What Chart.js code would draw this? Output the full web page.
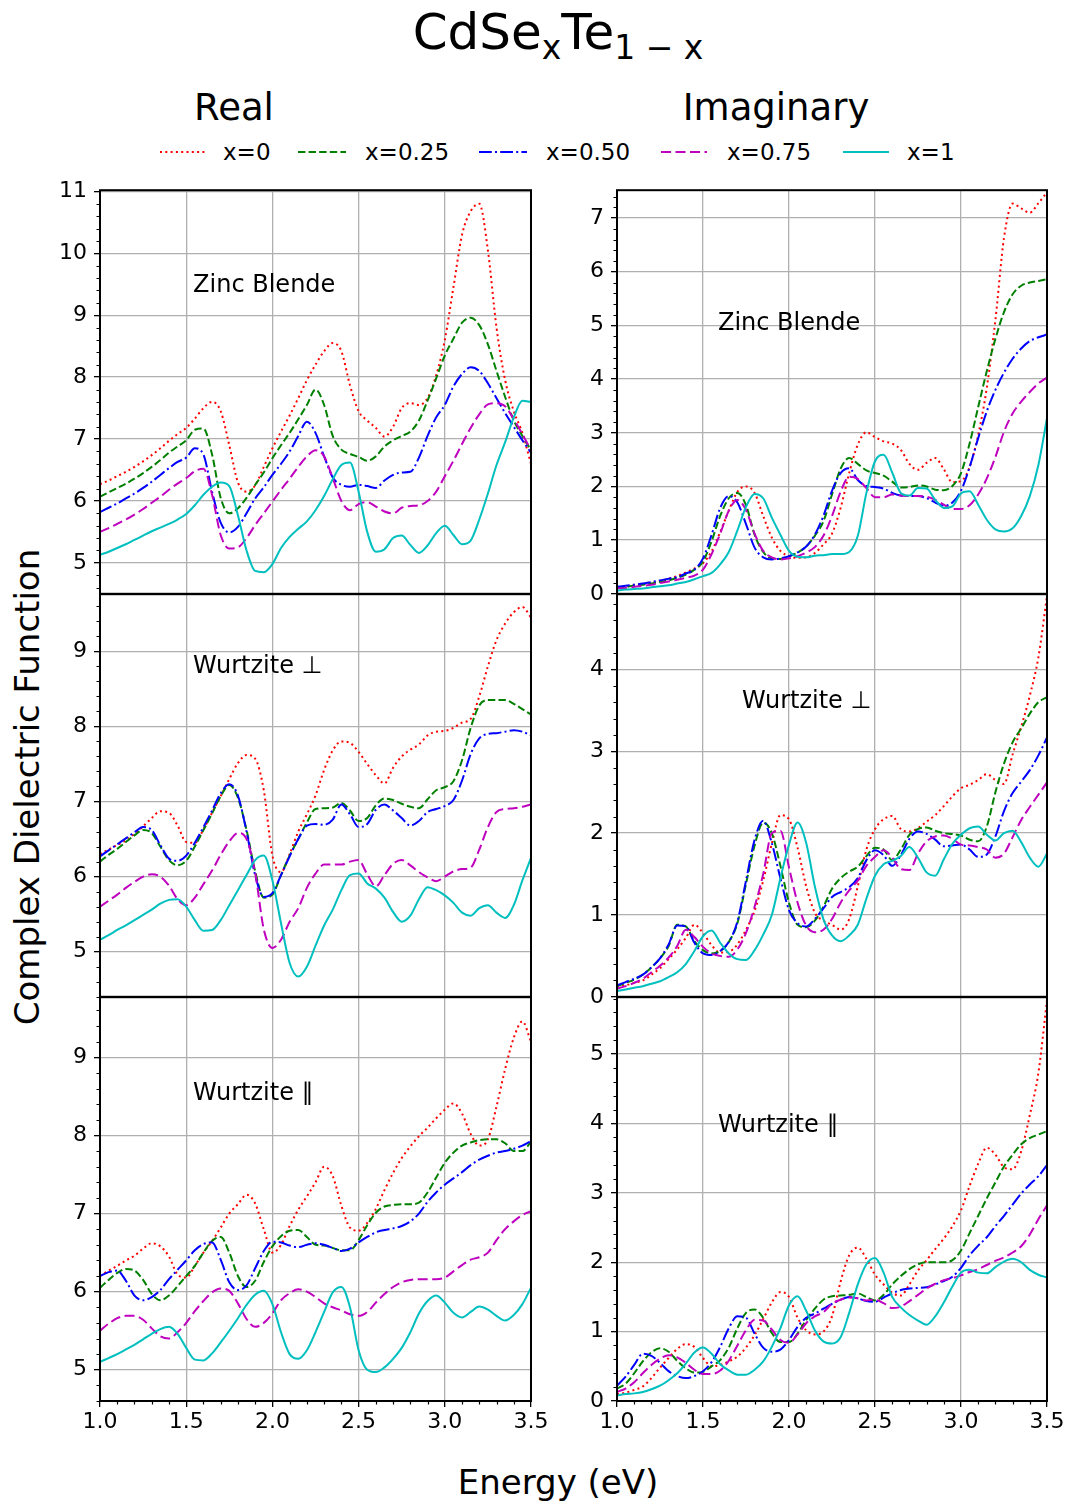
<!DOCTYPE html>
<html><head><meta charset="utf-8">
<script src="https://cdn.jsdelivr.net/npm/chart.js@4.4.0/dist/chart.umd.min.js"></script>
<style>
html,body{margin:0;padding:0;background:#fff;}
#page{position:relative;width:1071px;height:1504px;overflow:hidden;font-family:'DejaVu Sans',sans-serif;color:#000;}
canvas{position:absolute;}
.t{position:absolute;white-space:nowrap;line-height:1;}
.sub{font-size:33px;position:relative;top:10px;}
</style></head><body><div id="page">
<div class="t" style="font-size:50px;left:558px;top:32px;transform:translate(-50%,-50%)">CdSe<span class="sub">x</span>Te<span class="sub">1 − x</span></div>
<div class="t" style="font-size:37px;left:234px;top:107px;transform:translate(-50%,-50%)">Real</div>
<div class="t" style="font-size:37px;left:776px;top:107px;transform:translate(-50%,-50%)">Imaginary</div>
<div id="legend"></div>
<div class="t" style="font-size:34px;left:27px;top:787px;transform:translate(-50%,-50%) rotate(-90deg)">Complex Dielectric Function</div>
<div class="t" style="font-size:34px;left:558px;top:1482px;transform:translate(-50%,-50%)">Energy (eV)</div>
</div>
<script>
// ---------------- DATA ----------------
const ENERGY = [1.00,1.05,1.10,1.15,1.20,1.25,1.30,1.35,1.40,1.45,1.50,1.55,1.60,1.65,1.70,1.75,1.80,1.85,1.90,1.95,2.00,2.05,2.10,2.15,2.20,2.25,2.30,2.35,2.40,2.45,2.50,2.55,2.60,2.65,2.70,2.75,2.80,2.85,2.90,2.95,3.00,3.05,3.10,3.15,3.20,3.25,3.30,3.35,3.40,3.45,3.50];
const SERIES_LABELS = ['x=0','x=0.25','x=0.50','x=0.75','x=1'];
const ENERGY_TICKS = [1.0,1.5,2.0,2.5,3.0,3.5];

// Real part, Zinc Blende
const realZB_x0   = [6.27,6.33,6.40,6.47,6.55,6.64,6.74,6.85,6.97,7.08,7.18,7.33,7.50,7.60,7.45,6.90,6.30,6.15,6.25,6.55,6.85,7.12,7.38,7.66,7.95,8.20,8.42,8.55,8.42,7.87,7.45,7.30,7.18,7.04,7.20,7.50,7.58,7.55,7.66,8.03,8.60,9.45,10.30,10.68,10.80,10.05,8.80,7.95,7.45,7.10,6.60];
const realZB_x25  = [6.07,6.14,6.21,6.28,6.36,6.45,6.55,6.66,6.78,6.88,6.98,7.15,7.17,6.75,6.05,5.80,5.88,6.05,6.26,6.46,6.69,6.90,7.10,7.32,7.55,7.80,7.55,7.05,6.83,6.76,6.71,6.65,6.72,6.88,6.98,7.05,7.12,7.30,7.62,7.98,8.35,8.62,8.88,8.96,8.84,8.53,8.10,7.68,7.30,7.05,6.82];
const realZB_x50  = [5.82,5.89,5.96,6.04,6.12,6.21,6.31,6.42,6.53,6.63,6.70,6.85,6.75,6.15,5.65,5.49,5.58,5.80,6.04,6.22,6.42,6.60,6.80,7.05,7.28,7.10,6.72,6.38,6.26,6.23,6.26,6.24,6.21,6.33,6.42,6.46,6.47,6.70,7.05,7.35,7.55,7.85,8.05,8.16,8.10,7.90,7.66,7.42,7.20,6.98,6.78];
const realZB_x75  = [5.50,5.56,5.63,5.70,5.78,5.87,5.97,6.07,6.18,6.28,6.37,6.48,6.52,6.10,5.45,5.23,5.25,5.40,5.61,5.80,5.99,6.18,6.36,6.55,6.72,6.82,6.72,6.37,6.00,5.85,5.95,5.98,5.91,5.83,5.80,5.89,5.92,5.93,6.00,6.15,6.40,6.65,6.92,7.18,7.40,7.56,7.58,7.53,7.32,7.08,6.82];
const realZB_x100 = [5.13,5.18,5.24,5.30,5.37,5.44,5.51,5.57,5.63,5.70,5.79,5.93,6.10,6.23,6.30,6.24,5.77,5.20,4.87,4.85,4.98,5.24,5.42,5.55,5.67,5.85,6.08,6.35,6.58,6.62,6.15,5.50,5.18,5.22,5.40,5.44,5.29,5.16,5.28,5.48,5.60,5.45,5.30,5.36,5.70,6.12,6.58,6.95,7.35,7.62,7.60];

// Real part, Wurtzite perpendicular
const realWperp_x0   = [6.30,6.36,6.42,6.48,6.57,6.67,6.78,6.87,6.85,6.68,6.46,6.45,6.63,6.85,7.07,7.30,7.51,7.62,7.57,7.15,6.28,6.06,6.30,6.60,6.83,7.08,7.42,7.68,7.80,7.78,7.66,7.50,7.35,7.24,7.45,7.60,7.69,7.76,7.88,7.93,7.94,7.98,8.05,8.10,8.40,8.80,9.15,9.37,9.52,9.59,9.45];
const realWperp_x25  = [6.20,6.29,6.37,6.46,6.55,6.62,6.58,6.40,6.22,6.15,6.21,6.40,6.62,6.84,7.07,7.22,7.05,6.62,6.07,5.72,5.76,6.02,6.28,6.50,6.72,6.90,6.91,6.92,6.98,6.88,6.74,6.78,6.95,7.04,7.02,6.97,6.93,6.91,7.03,7.15,7.19,7.27,7.55,7.98,8.28,8.35,8.35,8.35,8.30,8.23,8.16];
const realWperp_x50  = [6.27,6.35,6.43,6.51,6.59,6.66,6.62,6.42,6.24,6.21,6.28,6.45,6.66,6.88,7.11,7.23,7.08,6.60,6.02,5.73,5.78,6.02,6.27,6.50,6.68,6.70,6.69,6.76,6.96,6.83,6.66,6.70,6.89,6.96,6.88,6.78,6.68,6.74,6.86,6.90,6.94,7.02,7.28,7.63,7.84,7.90,7.91,7.93,7.95,7.93,7.88];
const realWperp_x75  = [5.60,5.68,5.76,5.85,5.93,6.00,6.03,6.00,5.88,5.70,5.62,5.72,5.90,6.08,6.29,6.47,6.58,6.50,6.05,5.30,5.05,5.16,5.40,5.58,5.85,6.04,6.16,6.16,6.16,6.20,6.22,6.03,5.87,6.02,6.17,6.22,6.15,6.06,5.99,5.94,6.00,6.07,6.10,6.12,6.36,6.66,6.86,6.90,6.91,6.93,6.96];
const realWperp_x100 = [5.16,5.22,5.29,5.35,5.42,5.49,5.56,5.64,5.69,5.70,5.60,5.42,5.28,5.29,5.42,5.62,5.82,6.02,6.22,6.28,5.95,5.38,4.85,4.67,4.80,5.08,5.35,5.56,5.82,6.02,6.04,5.91,5.84,5.72,5.53,5.40,5.48,5.70,5.86,5.82,5.75,5.65,5.52,5.48,5.58,5.62,5.52,5.45,5.62,5.95,6.25];

// Real part, Wurtzite parallel
const realWpar_x0   = [6.20,6.27,6.33,6.40,6.46,6.55,6.62,6.58,6.45,6.22,6.18,6.33,6.50,6.65,6.82,7.00,7.12,7.24,7.13,6.80,6.50,6.60,6.84,7.05,7.22,7.40,7.60,7.48,7.10,6.82,6.78,6.88,7.06,7.30,7.52,7.71,7.86,7.99,8.10,8.22,8.33,8.41,8.28,8.02,7.87,7.95,8.37,8.85,9.25,9.46,9.20];
const realWpar_x25  = [6.05,6.15,6.24,6.29,6.27,6.15,5.97,5.89,5.95,6.07,6.20,6.33,6.50,6.65,6.70,6.50,6.20,6.06,6.14,6.38,6.58,6.71,6.78,6.79,6.70,6.60,6.59,6.56,6.53,6.53,6.66,6.85,7.01,7.09,7.11,7.12,7.12,7.14,7.27,7.46,7.65,7.78,7.87,7.91,7.94,7.95,7.95,7.90,7.80,7.80,7.92];
const realWpar_x50  = [6.20,6.25,6.27,6.14,5.95,5.89,5.93,6.02,6.16,6.28,6.40,6.53,6.61,6.63,6.41,6.12,6.02,6.08,6.30,6.52,6.64,6.63,6.59,6.57,6.60,6.62,6.60,6.56,6.52,6.55,6.63,6.70,6.76,6.79,6.81,6.84,6.90,7.00,7.15,7.27,7.37,7.45,7.53,7.62,7.69,7.74,7.78,7.80,7.83,7.87,7.93];
const realWpar_x75  = [5.50,5.59,5.66,5.69,5.69,5.64,5.53,5.43,5.40,5.48,5.60,5.75,5.88,5.99,6.04,6.01,5.85,5.65,5.55,5.60,5.72,5.89,5.98,6.03,6.00,5.93,5.85,5.80,5.76,5.71,5.69,5.74,5.86,5.97,6.06,6.12,6.15,6.16,6.16,6.16,6.18,6.26,6.34,6.41,6.44,6.50,6.66,6.80,6.90,6.98,7.03];
const realWpar_x100 = [5.10,5.15,5.20,5.26,5.32,5.39,5.46,5.52,5.55,5.46,5.28,5.13,5.12,5.21,5.35,5.50,5.66,5.83,5.96,6.01,5.84,5.48,5.20,5.14,5.25,5.48,5.74,5.99,6.06,5.80,5.25,5.00,4.97,5.03,5.14,5.28,5.48,5.72,5.88,5.95,5.86,5.73,5.67,5.74,5.81,5.77,5.69,5.63,5.70,5.84,6.05];

// Imaginary part, Zinc Blende
const imagZB_x0   = [0.11,0.13,0.16,0.18,0.21,0.24,0.28,0.33,0.40,0.47,0.57,0.79,1.15,1.55,1.90,2.00,1.88,1.45,1.05,0.80,0.70,0.67,0.68,0.76,0.92,1.12,1.60,2.25,2.78,3.01,2.92,2.84,2.80,2.68,2.42,2.31,2.44,2.53,2.32,2.08,2.10,2.36,2.96,3.84,5.10,6.63,7.27,7.18,7.10,7.28,7.48];
const imagZB_x25  = [0.11,0.13,0.15,0.17,0.19,0.22,0.25,0.30,0.36,0.45,0.60,0.98,1.45,1.78,1.88,1.65,1.10,0.78,0.66,0.65,0.70,0.77,0.88,1.08,1.35,1.85,2.33,2.53,2.42,2.30,2.25,2.20,2.09,1.98,1.99,2.02,2.00,1.94,1.93,2.01,2.25,2.80,3.48,4.15,4.75,5.25,5.58,5.74,5.80,5.83,5.86];
const imagZB_x50  = [0.13,0.15,0.17,0.19,0.22,0.25,0.28,0.31,0.38,0.45,0.66,1.10,1.60,1.82,1.70,1.30,0.86,0.68,0.64,0.66,0.70,0.77,0.88,1.10,1.45,1.92,2.25,2.34,2.12,2.01,1.99,1.96,1.88,1.83,1.82,1.82,1.78,1.70,1.64,1.70,1.92,2.36,2.90,3.40,3.80,4.12,4.38,4.57,4.71,4.78,4.83];
const imagZB_x75  = [0.10,0.11,0.13,0.15,0.17,0.20,0.23,0.26,0.30,0.34,0.45,0.74,1.12,1.55,1.75,1.56,1.12,0.80,0.68,0.64,0.66,0.70,0.77,0.87,1.08,1.45,1.90,2.18,2.14,1.97,1.80,1.80,1.85,1.83,1.82,1.82,1.81,1.75,1.66,1.58,1.58,1.65,1.85,2.15,2.55,3.02,3.36,3.58,3.76,3.92,4.03];
const imagZB_x100 = [0.06,0.08,0.09,0.10,0.12,0.14,0.16,0.19,0.22,0.27,0.33,0.39,0.55,0.78,1.18,1.62,1.86,1.78,1.42,1.10,0.80,0.69,0.68,0.71,0.72,0.74,0.74,0.78,1.08,1.88,2.47,2.59,2.26,1.88,1.83,1.97,1.96,1.75,1.60,1.63,1.87,1.91,1.66,1.38,1.20,1.16,1.22,1.45,1.82,2.40,3.27];

// Imaginary part, Wurtzite perpendicular
const imagWperp_x0   = [0.12,0.14,0.17,0.20,0.27,0.35,0.46,0.58,0.72,0.88,0.78,0.63,0.54,0.55,0.64,0.82,1.05,1.42,1.87,2.22,2.17,1.82,1.35,1.03,0.93,0.88,0.82,0.95,1.35,1.80,2.05,2.17,2.21,2.05,2.02,2.06,2.14,2.22,2.33,2.45,2.55,2.59,2.65,2.72,2.65,2.60,2.96,3.30,3.68,4.15,4.90];
const imagWperp_x25  = [0.13,0.17,0.21,0.27,0.36,0.47,0.62,0.88,0.86,0.68,0.57,0.53,0.56,0.67,0.90,1.38,1.85,2.13,2.00,1.60,1.15,0.88,0.85,0.93,1.10,1.32,1.45,1.53,1.59,1.72,1.82,1.80,1.67,1.80,1.98,2.05,2.07,2.03,2.00,1.99,1.97,1.92,1.90,2.08,2.50,2.85,3.11,3.28,3.46,3.60,3.66];
const imagWperp_x50  = [0.14,0.18,0.22,0.27,0.36,0.47,0.64,0.87,0.86,0.66,0.53,0.51,0.56,0.67,0.92,1.42,1.92,2.15,1.88,1.45,1.06,0.90,0.86,0.95,1.08,1.22,1.28,1.34,1.45,1.67,1.79,1.73,1.60,1.73,1.93,2.02,1.99,1.92,1.84,1.85,1.86,1.80,1.71,1.74,1.96,2.27,2.49,2.63,2.77,2.95,3.17];
const imagWperp_x75  = [0.10,0.13,0.17,0.22,0.30,0.38,0.48,0.62,0.82,0.73,0.61,0.53,0.50,0.49,0.58,0.78,1.10,1.50,2.00,2.03,1.58,1.15,0.87,0.79,0.82,0.95,1.15,1.30,1.42,1.60,1.71,1.79,1.70,1.56,1.55,1.75,1.90,1.96,1.97,1.93,1.86,1.85,1.83,1.80,1.70,1.75,1.95,2.16,2.32,2.47,2.62];
const imagWperp_x100 = [0.07,0.09,0.11,0.13,0.16,0.19,0.24,0.30,0.40,0.56,0.74,0.81,0.66,0.53,0.46,0.45,0.57,0.76,1.00,1.45,1.86,2.13,1.88,1.35,0.95,0.75,0.68,0.75,0.88,1.20,1.48,1.62,1.66,1.72,1.83,1.70,1.52,1.48,1.68,1.87,1.98,2.06,2.08,1.98,1.91,2.00,2.03,1.89,1.70,1.59,1.75];

// Imaginary part, Wurtzite parallel
const imagWpar_x0   = [0.10,0.12,0.16,0.21,0.33,0.48,0.62,0.75,0.82,0.78,0.62,0.50,0.52,0.57,0.64,0.77,0.95,1.18,1.42,1.57,1.50,1.20,1.02,0.96,1.00,1.22,1.72,2.10,2.21,2.05,1.82,1.68,1.56,1.52,1.68,1.88,2.03,2.19,2.34,2.52,2.75,3.10,3.42,3.65,3.55,3.37,3.34,3.60,4.12,4.73,5.78];
const imagWpar_x25  = [0.18,0.25,0.40,0.57,0.70,0.76,0.71,0.58,0.47,0.41,0.42,0.50,0.59,0.77,1.05,1.27,1.32,1.20,0.98,0.85,0.85,0.97,1.17,1.33,1.46,1.51,1.52,1.53,1.55,1.50,1.45,1.53,1.68,1.80,1.90,1.97,2.00,2.00,2.00,2.03,2.17,2.42,2.67,2.92,3.15,3.38,3.55,3.70,3.79,3.84,3.89];
const imagWpar_x50  = [0.22,0.35,0.52,0.68,0.65,0.55,0.43,0.36,0.33,0.36,0.43,0.56,0.78,1.05,1.22,1.20,0.97,0.77,0.71,0.74,0.88,1.07,1.20,1.26,1.33,1.40,1.46,1.50,1.48,1.44,1.43,1.49,1.55,1.60,1.62,1.63,1.64,1.68,1.73,1.79,1.92,2.10,2.24,2.36,2.52,2.67,2.83,2.99,3.12,3.24,3.40];
const imagWpar_x75  = [0.13,0.18,0.27,0.40,0.52,0.61,0.66,0.63,0.55,0.45,0.39,0.39,0.44,0.58,0.80,1.02,1.17,1.16,1.03,0.88,0.84,0.96,1.12,1.22,1.28,1.40,1.46,1.49,1.48,1.45,1.46,1.41,1.34,1.36,1.44,1.53,1.62,1.69,1.74,1.77,1.81,1.86,1.90,1.96,2.02,2.07,2.14,2.23,2.40,2.62,2.82];
const imagWpar_x100 = [0.08,0.10,0.11,0.13,0.17,0.22,0.30,0.40,0.54,0.70,0.77,0.68,0.53,0.44,0.38,0.38,0.45,0.57,0.78,1.05,1.38,1.51,1.30,1.02,0.86,0.83,0.92,1.27,1.68,1.97,2.06,1.85,1.50,1.35,1.24,1.16,1.10,1.22,1.42,1.65,1.85,1.89,1.85,1.84,1.93,2.01,2.05,2.00,1.89,1.82,1.78];

// tick label arrays
const REAL_ZB_TICKS = [5,6,7,8,9,10,11];
const REAL_WPERP_TICKS = [5,6,7,8,9];
const REAL_WPAR_TICKS = [5,6,7,8,9];
const IMAG_ZB_TICKS = [0,1,2,3,4,5,6,7];
const IMAG_WPERP_TICKS = [0,1,2,3,4];
const IMAG_WPAR_TICKS = [0,1,2,3,4,5];

// ---------------- STYLE ----------------
const STYLES = [
  {color:'#ff0000', dash:[2,3.3]},
  {color:'#008000', dash:[7.4,3.2]},
  {color:'#0000ff', dash:[12.8,3.2,2,3.2]},
  {color:'#bf00bf', dash:[10,4.5]},
  {color:'#00bfbf', dash:[]}
];
const FONT = "'DejaVu Sans'";
const TICK_FONT_SIZE = 22;

const PANELS = [
  {col:0,row:0,series:[realZB_x0,realZB_x25,realZB_x50,realZB_x75,realZB_x100],yMin:4.5,yMax:11.02,yTicks:REAL_ZB_TICKS,label:'Zinc Blende',lx:1.54,ly:9.48},
  {col:0,row:1,series:[realWperp_x0,realWperp_x25,realWperp_x50,realWperp_x75,realWperp_x100],yMin:4.4,yMax:9.76,yTicks:REAL_WPERP_TICKS,label:'Wurtzite ⊥',lx:1.54,ly:8.8},
  {col:0,row:2,series:[realWpar_x0,realWpar_x25,realWpar_x50,realWpar_x75,realWpar_x100],yMin:4.6,yMax:9.77,yTicks:REAL_WPAR_TICKS,label:'Wurtzite ∥',lx:1.54,ly:8.53},
  {col:1,row:0,series:[imagZB_x0,imagZB_x25,imagZB_x50,imagZB_x75,imagZB_x100],yMin:0,yMax:7.52,yTicks:IMAG_ZB_TICKS,label:'Zinc Blende',lx:1.587,ly:5.03},
  {col:1,row:1,series:[imagWperp_x0,imagWperp_x25,imagWperp_x50,imagWperp_x75,imagWperp_x100],yMin:0,yMax:4.92,yTicks:IMAG_WPERP_TICKS,label:'Wurtzite ⊥',lx:1.727,ly:3.61},
  {col:1,row:2,series:[imagWpar_x0,imagWpar_x25,imagWpar_x50,imagWpar_x75,imagWpar_x100],yMin:0,yMax:5.82,yTicks:IMAG_WPAR_TICKS,label:'Wurtzite ∥',lx:1.587,ly:3.96}
];

// layout geometry (plot areas in page pixels)
const COLS = [{plotLeft:100, plotRight:531, canvasLeft:0}, {plotLeft:617, plotRight:1047, canvasLeft:540}];
const ROWS = [{top:190,bottom:594},{top:594,bottom:997},{top:997,bottom:1401}];

function minorValues(min, max, step, majors){
  const out=[]; const start=Math.ceil(min/step-1e-9);
  for(let k=start; k*step<=max+1e-9; k++){
    const v=+(k*step).toFixed(4);
    if(!majors.some(m=>Math.abs(m-v)<1e-6)) out.push(v);
  }
  return out;
}
const X_MINOR = minorValues(1.0,3.5,0.1,ENERGY_TICKS);

function framePlugin(p, isBottom, yMinor){
  return {
    id:'frame'+p.col+p.row,
    afterDraw(chart){
      const {ctx, chartArea:a, scales:{x,y}} = chart;
      ctx.save();
      ctx.strokeStyle='#000'; ctx.lineWidth=1.2;
      ctx.beginPath();
      for(const v of yMinor){ const py=Math.round(y.getPixelForValue(v))+0.5; ctx.moveTo(a.left-3.5,py); ctx.lineTo(a.left,py); }
      if(isBottom){ for(const v of X_MINOR){ const px=Math.round(x.getPixelForValue(v))+0.5; ctx.moveTo(px,a.bottom); ctx.lineTo(px,a.bottom+3.5);} }
      ctx.stroke();
      ctx.lineWidth=2;
      ctx.strokeRect(a.left,a.top,a.right-a.left,a.bottom-a.top);
      ctx.fillStyle='#000'; ctx.font='24px '+FONT; ctx.textBaseline='middle'; ctx.textAlign='left';
      ctx.fillText(p.label, x.getPixelForValue(p.lx), y.getPixelForValue(p.ly));
      ctx.restore();
    }
  };
}

const page = document.getElementById('page');
PANELS.forEach(p=>{
  const c = COLS[p.col], r = ROWS[p.row];
  const isBottom = p.row===2;
  const padTop=20, padRight=22, xAxisH = isBottom?38:0, padBottom = isBottom?0:20;
  const yAxisW = c.plotLeft - c.canvasLeft;
  const W = c.plotRight + padRight - c.canvasLeft;
  const H = padTop + (r.bottom-r.top) + xAxisH + padBottom;
  const cv = document.createElement('canvas');
  cv.width=W; cv.height=H;
  cv.style.left=c.canvasLeft+'px'; cv.style.top=(r.top-padTop)+'px';
  cv.style.width=W+'px'; cv.style.height=H+'px';
  page.appendChild(cv);
  const yMinor = minorValues(p.yMin,p.yMax,0.2,p.yTicks);
  const datasets = p.series.map((arr,i)=>({
    label:SERIES_LABELS[i],
    data:ENERGY.map((e,j)=>({x:e,y:arr[j]})),
    borderColor:STYLES[i].color, borderDash:STYLES[i].dash, borderWidth:2,
    pointRadius:0, fill:false, cubicInterpolationMode:'monotone', order:4-i
  }));
  new Chart(cv,{
    type:'line',
    data:{datasets},
    plugins:[framePlugin(p,isBottom,yMinor)],
    options:{
      responsive:false, animation:false, devicePixelRatio:1,
      layout:{padding:{left:0,right:padRight,top:padTop,bottom:padBottom}},
      plugins:{legend:{display:false},tooltip:{enabled:false}},
      scales:{
        x:{type:'linear',min:1,max:3.5,
          afterBuildTicks:s=>{s.ticks=ENERGY_TICKS.map(v=>({value:v}));},
          afterFit:s=>{s.height=xAxisH;},
          ticks:{display:isBottom,autoSkip:false,maxRotation:0,padding:2,color:'#000',font:{family:FONT,size:TICK_FONT_SIZE},callback:v=>Number(v).toFixed(1)},
          grid:{color:'#b0b0b0',lineWidth:1.3,drawTicks:isBottom,tickLength:6,tickColor:'#000',tickWidth:1.3},
          border:{display:false}},
        y:{type:'linear',min:p.yMin,max:p.yMax,
          afterBuildTicks:s=>{s.ticks=p.yTicks.map(v=>({value:v}));},
          afterFit:s=>{s.width=yAxisW;},
          ticks:{autoSkip:false,padding:7,color:'#000',font:{family:FONT,size:TICK_FONT_SIZE},callback:v=>String(v)},
          grid:{color:'#b0b0b0',lineWidth:1.3,drawTicks:true,tickLength:6,tickColor:'#000',tickWidth:1.3},
          border:{display:false}}
      }
    }
  });
});

// legend (line samples + real text)
const LEG = [{x0:160,x1:206,tx:223},{x0:298,x1:346,tx:365},{x0:479,x1:527,tx:546},{x0:661,x1:707,tx:727},{x0:843,x1:889,tx:907}];
const legend = document.getElementById('legend');
let svg = '<svg style="position:absolute;left:0;top:140px" width="1071" height="24">';
LEG.forEach((l,i)=>{
  svg += `<line x1="${l.x0}" y1="12" x2="${l.x1}" y2="12" stroke="${STYLES[i].color}" stroke-width="2" ${STYLES[i].dash.length?`stroke-dasharray="${STYLES[i].dash.join(' ')}"`:''}/>`;
});
svg += '</svg>';
legend.innerHTML = svg + LEG.map((l,i)=>`<div class="t" style="font-size:23px;left:${l.tx}px;top:152px;transform:translateY(-50%)">${SERIES_LABELS[i]}</div>`).join('');
</script>
</body></html>
